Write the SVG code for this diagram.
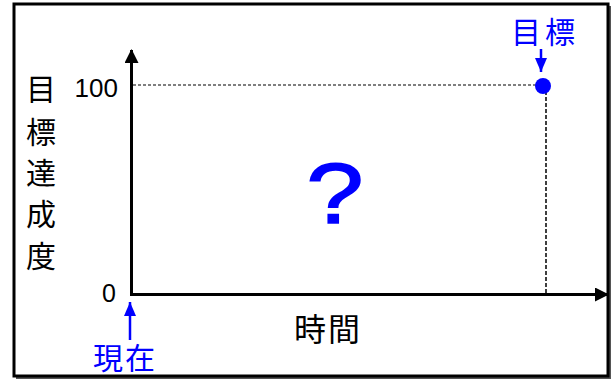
<svg xmlns="http://www.w3.org/2000/svg" width="613" height="380" viewBox="0 0 613 380">
<defs>
<marker id="ah" markerWidth="14" markerHeight="14" refX="13" refY="7" orient="auto" markerUnits="userSpaceOnUse"><path d="M0,0 L14,7 L0,14 z" fill="#000"/></marker>
<marker id="bh" markerWidth="14" markerHeight="12" refX="14" refY="6" orient="auto" markerUnits="userSpaceOnUse"><path d="M0,0 L14,6 L0,12 z" fill="#0000ff"/></marker>
<style>
.t{font-family:"Liberation Sans","Noto Sans CJK JP",sans-serif;}
.jp{font-family:"Noto Sans CJK JP",sans-serif;}
</style>
</defs>
<rect x="16" y="6" width="595" height="373" fill="#555"/>
<rect x="14" y="4" width="594" height="372" fill="#fff" stroke="#000" stroke-width="3"/>
<g id="connectors">
<line x1="133" y1="85" x2="546" y2="85" stroke="#000" stroke-width="1.2" stroke-dasharray="3,2"/>
<line x1="546" y1="85" x2="546" y2="294" stroke="#000" stroke-width="1.5" stroke-dasharray="4,2"/>
<line x1="131.5" y1="296" x2="131.5" y2="50" stroke="#000" stroke-width="3" marker-end="url(#ah)"/>
<line x1="130" y1="294.5" x2="608" y2="294.5" stroke="#000" stroke-width="3" marker-end="url(#ah)"/>
<line x1="541" y1="49" x2="541" y2="72" stroke="#0000ff" stroke-width="2.5" marker-end="url(#bh)"/>
<line x1="130" y1="340" x2="130" y2="302" stroke="#0000ff" stroke-width="2.5" marker-end="url(#bh)"/>
</g>
<g id="goal"><circle cx="543" cy="86" r="8" fill="#0000ff"/>
<text class="jp" x="545" y="43" font-size="30" fill="#0000ff" text-anchor="middle" letter-spacing="4">目標</text></g>
<g id="now"><text class="jp" x="125" y="369" font-size="30" fill="#0000ff" text-anchor="middle" letter-spacing="2">現在</text></g>
<g id="ylabels">
<text class="t" x="118" y="97" font-size="26" text-anchor="end">100</text>
<text class="t" x="116" y="302" font-size="25" text-anchor="end">0</text>
</g>
<g id="yaxis-title" class="jp" font-size="30" text-anchor="middle">
<text x="41" y="100">目</text>
<text x="41" y="143">標</text>
<text x="41" y="184">達</text>
<text x="41" y="225">成</text>
<text x="41" y="267">度</text>
</g>
<g id="xaxis-title"><text class="jp" x="328" y="341" font-size="32" text-anchor="middle" letter-spacing="2">時間</text></g>
<g id="q"><text class="t" x="0" y="223" font-size="86" fill="#0000ff" stroke="#0000ff" stroke-width="1.5" text-anchor="middle" transform="translate(335,0) scale(1.2,1)">?</text></g>
</svg>
